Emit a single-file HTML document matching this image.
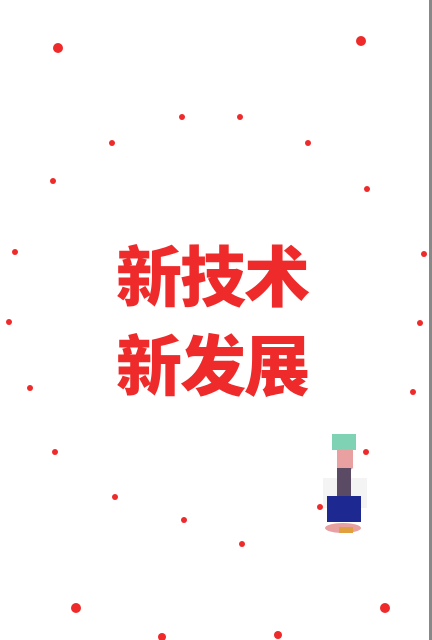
<!DOCTYPE html>
<html><head><meta charset="utf-8"><style>
body{margin:0;width:432px;height:640px;overflow:hidden;background:#fff;position:relative;font-family:"Liberation Sans","Noto Sans CJK SC",sans-serif}
.t{position:absolute;left:-4px;width:432px;text-align:center;color:#ee2a2a;font-weight:900;font-size:66px;line-height:66px;font-family:"Noto Sans CJK SC",sans-serif;letter-spacing:-2px}
.edge{position:absolute;left:429px;top:0;width:3px;height:640px;background:#888}
</style></head><body>
<svg width="432" height="640" style="position:absolute;left:0;top:0" id="dots"></svg>
<div class="edge"></div>
<div class="t" style="top:240px">新技术</div>
<div class="t" style="top:329px">新发展</div>
<svg width="70" height="110" style="position:absolute;left:315px;top:430px">
<rect x="17" y="4" width="24" height="16" fill="#7fd3b4"/>
<path d="M22 20 h16 v18 q-8 8 -16 0z" fill="#e8a0a0"/>
<path d="M8 48 h44 v30 h-44z" fill="#f4f4f4"/>
<rect x="22" y="38" width="14" height="40" fill="#5b4a63"/>
<rect x="12" y="66" width="34" height="26" fill="#1d2890"/>
<ellipse cx="28" cy="98" rx="18" ry="5" fill="#e8a0a0"/>
<rect x="24" y="97" width="14" height="6" fill="#e0a040"/>
</svg>
<script>
const dots=[[58,48,5],[361,41,5],[182,117,3],[240,117,3],[112,143,3],[308,143,3],[53,181,3],[367,189,3],[15,252,3],[424,254,3],[9,322,3],[420,323,3],[30,388,3],[413,392,3],[55,452,3],[366,452,3],[115,497,3],[184,520,3],[320,507,3],[242,544,3],[76,608,5],[385,608,5],[162,637,4],[278,635,4]];
const s=document.getElementById('dots');
dots.forEach(d=>{const c=document.createElementNS('http://www.w3.org/2000/svg','circle');
c.setAttribute('cx',d[0]);c.setAttribute('cy',d[1]);c.setAttribute('r',d[2]);c.setAttribute('fill','#ee2a2a');


s.appendChild(c);});
</script>
</body></html>
